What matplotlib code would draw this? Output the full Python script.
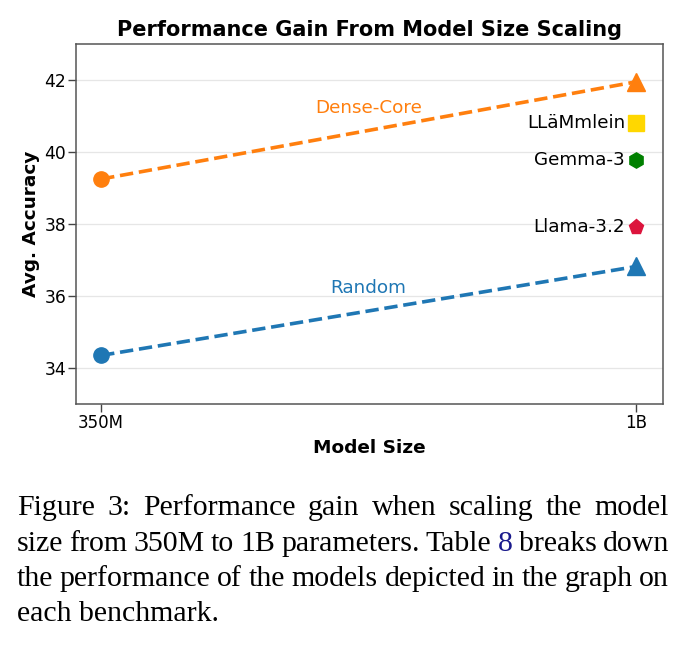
import matplotlib
matplotlib.use("Agg")
import matplotlib.pyplot as plt

# ---- data ----
sizes = ["350M", "1B"]
dense_core = [39.25, 41.95]
random_sel = [34.35, 36.82]
other_models = ["LLäMmlein", "Gemma-3", "Llama-3.2"]
other_scores = [40.80, 39.78, 37.92]
other_markers = ["s", "h", "p"]
other_colors = ["#FFD700", "#008000", "#DC143C"]
yticks = [34, 36, 38, 40, 42]

caption_lines = [
    "Figure 3: Performance gain when scaling the model",
    "size from 350M to 1B parameters. Table 8 breaks down",
    "the performance of the models depicted in the graph on",
    "each benchmark.",
]

W, H = 686, 645
fig = plt.figure(figsize=(W / 100, H / 100), dpi=100)
ax = fig.add_axes([76 / W, 1 - 404 / H, (663 - 76) / W, (404 - 44) / H])

xs = list(range(len(sizes)))
orange = "#FF7F0E"
blue = "#1F77B4"

ax.plot(xs, dense_core, ls="--", lw=2.6, color=orange, zorder=3)
ax.plot(xs, random_sel, ls="--", lw=2.6, color=blue, zorder=3)
ax.plot(xs[0], dense_core[0], "o", ms=11, color=orange, zorder=4)
ax.plot(xs[1], dense_core[1], "^", ms=12.5, color=orange, zorder=4)
ax.plot(xs[0], random_sel[0], "o", ms=11, color=blue, zorder=4)
ax.plot(xs[1], random_sel[1], "^", ms=12.5, color=blue, zorder=4)

mid = (xs[0] + xs[1]) / 2
ax.text(mid, (dense_core[0] + dense_core[1]) / 2 + 0.38, "Dense-Core",
        color=orange, fontsize=13.2, ha="center", va="bottom")
ax.text(mid, (random_sel[0] + random_sel[1]) / 2 + 0.38, "Random",
        color=blue, fontsize=13.2, ha="center", va="bottom")

for name, sc, mk, col in zip(other_models, other_scores, other_markers, other_colors):
    ax.plot(xs[1], sc, mk, ms=11, color=col, zorder=4)
    ax.annotate(name, (xs[1], sc), xytext=(-11, 0), textcoords="offset pixels",
                ha="right", va="center", fontsize=13.2, color="black")

ax.set_xlim(-0.047, 1.05)
ax.set_ylim(33.0, 43.0)
ax.set_xticks(xs)
ax.set_xticklabels(sizes, fontsize=12)
ax.set_yticks(yticks)
ax.set_yticklabels([str(t) for t in yticks], fontsize=12.3)
ax.tick_params(axis="both", length=5.5, width=1, color="#444444", pad=1.5)
ax.yaxis.grid(True, color="#e6e6e6", lw=0.9)
ax.set_axisbelow(True)
for s in ax.spines.values():
    s.set_color("#555555")
    s.set_linewidth(1.1)

ax.set_title("Performance Gain From Model Size Scaling", fontsize=15,
             fontweight="bold", pad=6)
ax.set_xlabel("Model Size", fontsize=13.3, fontweight="bold", labelpad=5)
ax.set_ylabel("Avg. Accuracy", fontsize=13.3, fontweight="bold", labelpad=3)

# ---- caption (justified) ----
cap_font = dict(family="Liberation Serif", fontsize=21.5)
left_px, right_px = 17, 669
baselines = [515, 551, 586, 621]
fig.canvas.draw()
r = fig.canvas.get_renderer()

def width_px(t):
    return t.get_window_extent(renderer=r).width

for i, line in enumerate(caption_lines):
    yb = 1 - baselines[i] / H
    if i == len(caption_lines) - 1:
        fig.text(left_px / W, yb, line, va="baseline", ha="left", **cap_font)
        continue
    words = line.split(" ")
    texts = []
    for w in words:
        col = "#1a1a8c" if (i == 1 and w == "8") else "black"
        t = fig.text(0, yb, w, va="baseline", ha="left", color=col, **cap_font)
        texts.append(t)
    widths = [width_px(t) for t in texts]
    gap = (right_px - left_px - sum(widths)) / (len(words) - 1)
    x = left_px
    for t, wd in zip(texts, widths):
        t.set_x(x / W)
        x += wd + gap

fig.savefig("out.png", dpi=100)
